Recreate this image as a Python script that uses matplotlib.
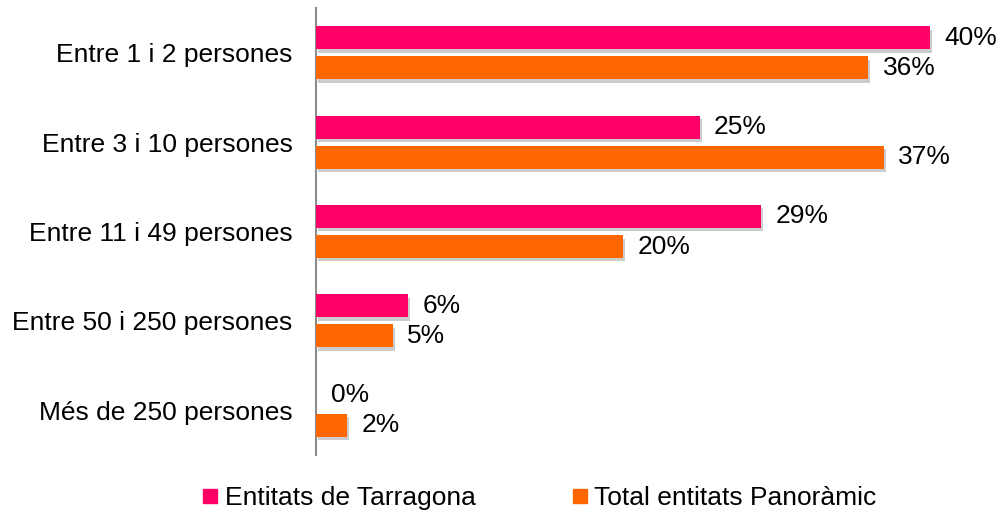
#!/usr/bin/env python
'''
Entitats per nombre de persones: Tarragona vs total Panoramic
'''

import numpy as np
import matplotlib
matplotlib.use('Agg')
import matplotlib.pyplot as plt
import matplotlib.patheffects as pe
from matplotlib.lines import Line2D

plt.rcParams['font.family'] = ['Liberation Sans', 'DejaVu Sans']

categories = ['Entre 1 i 2 persones', 'Entre 3 i 10 persones', 'Entre 11 i 49 persones',
              'Entre 50 i 250 persones', 'Més de 250 persones']
tarragona = [40, 25, 29, 6, 0]
panoramic = [36, 37, 20, 5, 2]
series_names = ['Entitats de Tarragona', 'Total entitats Panoràmic']

PINK = '#FF0066'
ORANGE = '#FF6600'
FS = 19


def main():
    fig = plt.figure(figsize=(10.02, 5.16), dpi=100)
    ax = fig.add_axes([316 / 1002, 1 - 455 / 516, 675 / 1002, 447 / 516])

    y = np.arange(len(categories))[::-1]
    off = 0.168
    h = 0.257
    shadow = [pe.SimplePatchShadow(offset=(1.5, -2.5), shadow_rgbFace='#000000', alpha=0.2),
              pe.Normal()]

    b1 = ax.barh(y + off, tarragona, height=h, color=PINK, zorder=3)
    b2 = ax.barh(y - off, panoramic, height=h, color=ORANGE, zorder=3)
    for bars in (b1, b2):
        for b in bars:
            if b.get_width() > 0:
                b.set_path_effects(shadow)

    for yy, v in zip(y + off, tarragona):
        ax.text(v + 0.95, yy, '{}%'.format(v), va='center', ha='left', fontsize=FS)
    for yy, v in zip(y - off, panoramic):
        ax.text(v + 0.95, yy, '{}%'.format(v), va='center', ha='left', fontsize=FS)

    ax.set_xlim(0, 44)
    ax.set_ylim(-0.5, len(categories) - 0.5)
    ax.set_yticks(y)
    ax.set_yticklabels(categories, fontsize=FS)
    ax.tick_params(axis='y', length=0, pad=17)
    ax.set_xticks([])
    for s in ('top', 'right', 'bottom'):
        ax.spines[s].set_visible(False)
    ax.spines['left'].set_color('#8C8C8C')
    ax.spines['left'].set_linewidth(1.5)

    handles = [Line2D([], [], marker='s', linestyle='none', markersize=9.5, color=c)
               for c in (PINK, ORANGE)]
    fig.legend(handles, series_names, loc='center', bbox_to_anchor=(540 / 1002, 1 - 498 / 516),
               ncol=2, frameon=False, fontsize=FS, handlelength=0.5, handletextpad=0.3,
               columnspacing=3.7, borderpad=0)

    fig.savefig('out.png', dpi=100)
    plt.close(fig)


if __name__ == '__main__':
    main()
